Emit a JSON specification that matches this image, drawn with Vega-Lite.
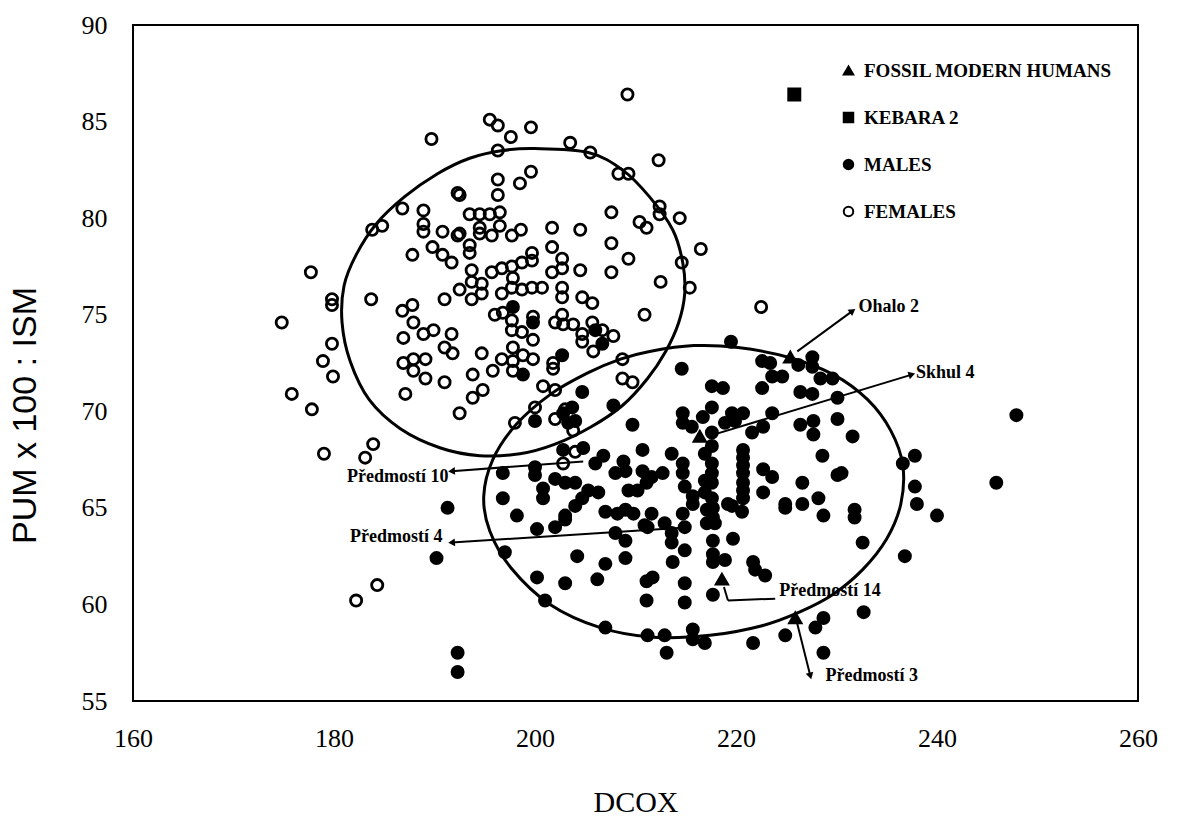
{
  "$schema": "https://vega.github.io/schema/vega-lite/v6.json",
  "width": 1005,
  "height": 676,
  "autosize": {"type": "none"},
  "padding": {"left": 133, "top": 25, "right": 41, "bottom": 118},
  "background": "white",
  "config": {
    "view": {"stroke": "black", "strokeWidth": 2},
    "axis": {"grid": false, "ticks": false, "domain": false, "labelColor": "black", "titleColor": "black"},
    "legend": {
      "orient": "none", "legendX": 706, "legendY": 36, "title": null,
      "labelFont": "Liberation Serif", "labelFontWeight": "bold", "labelFontSize": 19, "labelColor": "black", "labelLimit": 0,
      "rowPadding": 27, "labelOffset": 6, "symbolStrokeWidth": 2, "symbolSize": 90, "symbolStrokeColor": "black"
    }
  },
  "datasets": {
    "pts": [
      {"group":"FEMALES","x":174.8,"y":74.6},{"group":"FEMALES","x":175.8,"y":70.9},{"group":"FEMALES","x":177.8,"y":70.1},{"group":"FEMALES","x":177.7,"y":77.2},{"group":"FEMALES","x":178.9,"y":72.6},{"group":"FEMALES","x":179.8,"y":73.5},{"group":"FEMALES","x":179.9,"y":71.8},{"group":"FEMALES","x":179.8,"y":75.8},{"group":"FEMALES","x":179.8,"y":75.5},{"group":"FEMALES","x":179.0,"y":67.8},
      {"group":"FEMALES","x":182.2,"y":60.2},{"group":"FEMALES","x":184.3,"y":61.0},{"group":"FEMALES","x":183.9,"y":68.3},{"group":"FEMALES","x":183.1,"y":67.6},{"group":"FEMALES","x":183.7,"y":75.8},{"group":"FEMALES","x":183.8,"y":79.4},{"group":"FEMALES","x":184.8,"y":79.6},{"group":"FEMALES","x":186.8,"y":80.5},{"group":"FEMALES","x":188.9,"y":80.4},{"group":"FEMALES","x":188.9,"y":79.7},
      {"group":"FEMALES","x":188.9,"y":79.3},{"group":"FEMALES","x":190.8,"y":79.3},{"group":"FEMALES","x":192.3,"y":79.1},{"group":"FEMALES","x":187.8,"y":78.1},{"group":"FEMALES","x":189.8,"y":78.5},{"group":"FEMALES","x":190.8,"y":78.1},{"group":"FEMALES","x":191.7,"y":77.7},{"group":"FEMALES","x":192.3,"y":81.3},{"group":"FEMALES","x":189.7,"y":84.1},{"group":"FEMALES","x":187.1,"y":70.9},
      {"group":"FEMALES","x":186.8,"y":75.2},{"group":"FEMALES","x":187.8,"y":75.5},{"group":"FEMALES","x":187.9,"y":74.6},{"group":"FEMALES","x":188.9,"y":74.0},{"group":"FEMALES","x":189.9,"y":74.2},{"group":"FEMALES","x":186.9,"y":73.8},{"group":"FEMALES","x":186.9,"y":72.5},{"group":"FEMALES","x":187.9,"y":72.7},{"group":"FEMALES","x":189.1,"y":72.7},{"group":"FEMALES","x":187.9,"y":72.1},
      {"group":"FEMALES","x":189.1,"y":71.7},{"group":"FEMALES","x":191.0,"y":71.5},{"group":"FEMALES","x":191.0,"y":75.8},{"group":"FEMALES","x":191.7,"y":74.0},{"group":"FEMALES","x":191.0,"y":73.3},{"group":"FEMALES","x":191.8,"y":73.0},{"group":"FEMALES","x":192.5,"y":69.9},{"group":"FEMALES","x":209.2,"y":86.4},{"group":"FEMALES","x":195.5,"y":85.1},{"group":"FEMALES","x":196.3,"y":84.8},
      {"group":"FEMALES","x":197.6,"y":84.2},{"group":"FEMALES","x":199.6,"y":84.7},{"group":"FEMALES","x":203.5,"y":83.9},{"group":"FEMALES","x":205.5,"y":83.4},{"group":"FEMALES","x":208.3,"y":82.3},{"group":"FEMALES","x":209.3,"y":82.3},{"group":"FEMALES","x":196.3,"y":83.5},{"group":"FEMALES","x":199.6,"y":82.4},{"group":"FEMALES","x":198.5,"y":81.8},{"group":"FEMALES","x":196.3,"y":82.0},
      {"group":"FEMALES","x":196.3,"y":81.2},{"group":"FEMALES","x":192.5,"y":81.2},{"group":"FEMALES","x":207.6,"y":80.3},{"group":"FEMALES","x":210.4,"y":79.8},{"group":"FEMALES","x":211.1,"y":79.5},{"group":"FEMALES","x":193.5,"y":80.2},{"group":"FEMALES","x":194.5,"y":80.2},{"group":"FEMALES","x":195.5,"y":80.2},{"group":"FEMALES","x":196.5,"y":80.3},{"group":"FEMALES","x":194.5,"y":79.5},
      {"group":"FEMALES","x":196.5,"y":79.6},{"group":"FEMALES","x":194.5,"y":79.2},{"group":"FEMALES","x":195.7,"y":79.1},{"group":"FEMALES","x":197.7,"y":79.1},{"group":"FEMALES","x":198.6,"y":79.4},{"group":"FEMALES","x":201.7,"y":79.5},{"group":"FEMALES","x":204.5,"y":79.4},{"group":"FEMALES","x":192.5,"y":79.2},{"group":"FEMALES","x":207.6,"y":78.7},{"group":"FEMALES","x":209.3,"y":77.9},
      {"group":"FEMALES","x":193.5,"y":78.6},{"group":"FEMALES","x":193.5,"y":78.2},{"group":"FEMALES","x":201.7,"y":78.5},{"group":"FEMALES","x":202.7,"y":77.9},{"group":"FEMALES","x":199.7,"y":78.2},{"group":"FEMALES","x":199.7,"y":77.8},{"group":"FEMALES","x":198.7,"y":77.7},{"group":"FEMALES","x":193.7,"y":77.3},{"group":"FEMALES","x":195.7,"y":77.2},{"group":"FEMALES","x":196.7,"y":77.4},
      {"group":"FEMALES","x":197.7,"y":77.5},{"group":"FEMALES","x":197.8,"y":76.9},{"group":"FEMALES","x":201.7,"y":77.2},{"group":"FEMALES","x":202.7,"y":77.4},{"group":"FEMALES","x":204.5,"y":77.3},{"group":"FEMALES","x":207.6,"y":77.2},{"group":"FEMALES","x":193.7,"y":76.7},{"group":"FEMALES","x":194.7,"y":76.6},{"group":"FEMALES","x":197.7,"y":76.4},{"group":"FEMALES","x":198.7,"y":76.3},
      {"group":"FEMALES","x":199.7,"y":76.4},{"group":"FEMALES","x":200.7,"y":76.4},{"group":"FEMALES","x":202.7,"y":76.4},{"group":"FEMALES","x":192.5,"y":76.3},{"group":"FEMALES","x":212.3,"y":83.0},{"group":"FEMALES","x":212.4,"y":80.6},{"group":"FEMALES","x":212.4,"y":80.2},{"group":"FEMALES","x":214.4,"y":80.0},{"group":"FEMALES","x":216.5,"y":78.4},{"group":"FEMALES","x":214.6,"y":77.7},
      {"group":"FEMALES","x":212.5,"y":76.7},{"group":"FEMALES","x":215.4,"y":76.4},{"group":"FEMALES","x":193.7,"y":75.8},{"group":"FEMALES","x":194.7,"y":76.1},{"group":"FEMALES","x":196.7,"y":76.1},{"group":"FEMALES","x":202.7,"y":75.9},{"group":"FEMALES","x":204.7,"y":75.9},{"group":"FEMALES","x":205.7,"y":75.6},{"group":"FEMALES","x":196.0,"y":75.0},{"group":"FEMALES","x":196.8,"y":75.1},
      {"group":"FEMALES","x":197.7,"y":74.7},{"group":"FEMALES","x":199.8,"y":74.9},{"group":"FEMALES","x":197.7,"y":74.2},{"group":"FEMALES","x":198.7,"y":74.1},{"group":"FEMALES","x":199.8,"y":73.7},{"group":"FEMALES","x":202.0,"y":74.6},{"group":"FEMALES","x":202.7,"y":75.0},{"group":"FEMALES","x":202.8,"y":74.5},{"group":"FEMALES","x":203.8,"y":74.5},{"group":"FEMALES","x":204.7,"y":74.0},
      {"group":"FEMALES","x":205.7,"y":74.6},{"group":"FEMALES","x":206.7,"y":74.2},{"group":"FEMALES","x":207.8,"y":73.9},{"group":"FEMALES","x":204.7,"y":73.6},{"group":"FEMALES","x":205.8,"y":73.1},{"group":"FEMALES","x":194.7,"y":73.0},{"group":"FEMALES","x":196.7,"y":72.7},{"group":"FEMALES","x":197.8,"y":73.3},{"group":"FEMALES","x":197.8,"y":72.6},{"group":"FEMALES","x":198.8,"y":72.9},
      {"group":"FEMALES","x":199.8,"y":72.7},{"group":"FEMALES","x":197.8,"y":72.1},{"group":"FEMALES","x":195.8,"y":72.1},{"group":"FEMALES","x":193.8,"y":71.9},{"group":"FEMALES","x":194.8,"y":71.1},{"group":"FEMALES","x":193.8,"y":70.7},{"group":"FEMALES","x":201.8,"y":72.5},{"group":"FEMALES","x":201.8,"y":72.2},{"group":"FEMALES","x":200.8,"y":71.3},{"group":"FEMALES","x":202.0,"y":71.1},
      {"group":"FEMALES","x":200.0,"y":70.2},{"group":"FEMALES","x":202.0,"y":69.6},{"group":"FEMALES","x":198.0,"y":69.4},{"group":"FEMALES","x":203.0,"y":70.1},{"group":"FEMALES","x":203.8,"y":69.0},{"group":"FEMALES","x":208.7,"y":72.7},{"group":"FEMALES","x":208.7,"y":71.7},{"group":"FEMALES","x":209.7,"y":71.5},{"group":"FEMALES","x":210.9,"y":75.0},{"group":"FEMALES","x":204.0,"y":67.9},
      {"group":"FEMALES","x":202.8,"y":67.3},{"group":"FEMALES","x":222.5,"y":75.4},
      {"group":"MALES","x":197.8,"y":75.4},{"group":"MALES","x":199.8,"y":74.6},{"group":"MALES","x":206.0,"y":74.2},{"group":"MALES","x":206.7,"y":73.5},{"group":"MALES","x":202.7,"y":72.9},{"group":"MALES","x":198.8,"y":71.9},{"group":"MALES","x":204.7,"y":71.0},{"group":"MALES","x":207.8,"y":70.3},{"group":"MALES","x":200.0,"y":69.5},{"group":"MALES","x":202.8,"y":69.9},
      {"group":"MALES","x":203.7,"y":70.2},{"group":"MALES","x":204.0,"y":69.5},{"group":"MALES","x":203.3,"y":69.4},{"group":"MALES","x":209.7,"y":69.3},{"group":"MALES","x":202.8,"y":68.0},{"group":"MALES","x":204.8,"y":68.1},{"group":"MALES","x":206.0,"y":67.3},{"group":"MALES","x":206.8,"y":67.7},{"group":"MALES","x":208.0,"y":66.8},{"group":"MALES","x":208.8,"y":67.4},
      {"group":"MALES","x":209.0,"y":66.9},{"group":"MALES","x":210.7,"y":68.0},{"group":"MALES","x":210.7,"y":66.9},{"group":"MALES","x":196.8,"y":66.8},{"group":"MALES","x":200.0,"y":67.1},{"group":"MALES","x":200.0,"y":66.7},{"group":"MALES","x":202.0,"y":66.5},{"group":"MALES","x":203.0,"y":66.3},{"group":"MALES","x":204.0,"y":66.3},{"group":"MALES","x":196.8,"y":65.5},
      {"group":"MALES","x":200.8,"y":66.0},{"group":"MALES","x":200.8,"y":65.5},{"group":"MALES","x":205.3,"y":65.9},{"group":"MALES","x":206.3,"y":65.8},{"group":"MALES","x":204.7,"y":65.5},{"group":"MALES","x":209.3,"y":65.9},{"group":"MALES","x":210.2,"y":65.9},{"group":"MALES","x":211.1,"y":66.3},{"group":"MALES","x":219.5,"y":73.6},{"group":"MALES","x":214.6,"y":72.2},
      {"group":"MALES","x":217.6,"y":71.3},{"group":"MALES","x":218.7,"y":71.2},{"group":"MALES","x":222.6,"y":72.6},{"group":"MALES","x":223.4,"y":72.5},{"group":"MALES","x":223.6,"y":71.8},{"group":"MALES","x":224.6,"y":71.8},{"group":"MALES","x":222.6,"y":71.2},{"group":"MALES","x":226.2,"y":72.4},{"group":"MALES","x":227.6,"y":72.8},{"group":"MALES","x":227.6,"y":72.3},
      {"group":"MALES","x":228.4,"y":71.7},{"group":"MALES","x":229.6,"y":71.7},{"group":"MALES","x":226.4,"y":71.0},{"group":"MALES","x":227.6,"y":70.9},{"group":"MALES","x":230.1,"y":70.7},{"group":"MALES","x":223.6,"y":69.9},{"group":"MALES","x":226.4,"y":69.3},{"group":"MALES","x":227.7,"y":69.5},{"group":"MALES","x":227.7,"y":68.8},{"group":"MALES","x":230.1,"y":69.6},
      {"group":"MALES","x":228.6,"y":67.7},{"group":"MALES","x":226.6,"y":66.3},{"group":"MALES","x":228.2,"y":65.5},{"group":"MALES","x":214.7,"y":69.9},{"group":"MALES","x":216.7,"y":69.7},{"group":"MALES","x":217.6,"y":70.2},{"group":"MALES","x":214.7,"y":69.4},{"group":"MALES","x":215.6,"y":69.2},{"group":"MALES","x":219.6,"y":69.9},{"group":"MALES","x":220.7,"y":69.9},
      {"group":"MALES","x":218.9,"y":69.4},{"group":"MALES","x":219.9,"y":69.5},{"group":"MALES","x":222.7,"y":69.2},{"group":"MALES","x":221.6,"y":68.9},{"group":"MALES","x":217.6,"y":68.9},{"group":"MALES","x":217.6,"y":68.2},{"group":"MALES","x":213.6,"y":67.8},{"group":"MALES","x":214.7,"y":67.3},{"group":"MALES","x":214.7,"y":66.8},{"group":"MALES","x":216.9,"y":67.8},
      {"group":"MALES","x":217.6,"y":67.3},{"group":"MALES","x":217.6,"y":66.8},{"group":"MALES","x":216.9,"y":66.4},{"group":"MALES","x":217.6,"y":66.3},{"group":"MALES","x":216.9,"y":65.8},{"group":"MALES","x":217.6,"y":65.5},{"group":"MALES","x":220.7,"y":68.0},{"group":"MALES","x":220.7,"y":67.6},{"group":"MALES","x":220.7,"y":67.2},{"group":"MALES","x":220.7,"y":66.8},
      {"group":"MALES","x":220.7,"y":66.3},{"group":"MALES","x":220.7,"y":65.9},{"group":"MALES","x":220.7,"y":65.5},{"group":"MALES","x":222.7,"y":67.0},{"group":"MALES","x":223.6,"y":66.6},{"group":"MALES","x":222.7,"y":65.8},{"group":"MALES","x":212.7,"y":66.8},{"group":"MALES","x":211.6,"y":66.6},{"group":"MALES","x":214.9,"y":66.1},{"group":"MALES","x":215.7,"y":65.6},
      {"group":"MALES","x":219.2,"y":65.2},{"group":"MALES","x":224.9,"y":65.2},{"group":"MALES","x":230.1,"y":66.7},{"group":"MALES","x":231.6,"y":68.7},{"group":"MALES","x":230.5,"y":66.8},{"group":"MALES","x":237.8,"y":67.7},{"group":"MALES","x":236.6,"y":67.3},{"group":"MALES","x":237.8,"y":66.1},{"group":"MALES","x":247.9,"y":69.8},{"group":"MALES","x":245.9,"y":66.3},
      {"group":"MALES","x":238.0,"y":65.2},{"group":"MALES","x":231.8,"y":64.9},{"group":"MALES","x":231.8,"y":64.5},{"group":"MALES","x":240.0,"y":64.6},{"group":"MALES","x":232.6,"y":63.2},{"group":"MALES","x":236.8,"y":62.5},{"group":"MALES","x":232.7,"y":59.6},{"group":"MALES","x":211.6,"y":64.7},{"group":"MALES","x":212.9,"y":64.2},{"group":"MALES","x":211.2,"y":64.0},
      {"group":"MALES","x":214.7,"y":64.7},{"group":"MALES","x":215.7,"y":65.2},{"group":"MALES","x":217.1,"y":64.9},{"group":"MALES","x":217.7,"y":65.0},{"group":"MALES","x":217.7,"y":64.5},{"group":"MALES","x":217.1,"y":64.2},{"group":"MALES","x":217.9,"y":64.2},{"group":"MALES","x":213.6,"y":63.7},{"group":"MALES","x":214.9,"y":64.0},{"group":"MALES","x":213.6,"y":63.2},
      {"group":"MALES","x":214.9,"y":62.8},{"group":"MALES","x":213.7,"y":62.2},{"group":"MALES","x":217.7,"y":63.3},{"group":"MALES","x":217.7,"y":62.6},{"group":"MALES","x":217.7,"y":62.2},{"group":"MALES","x":218.9,"y":62.3},{"group":"MALES","x":219.7,"y":63.4},{"group":"MALES","x":221.7,"y":62.2},{"group":"MALES","x":221.9,"y":61.8},{"group":"MALES","x":222.9,"y":61.5},
      {"group":"MALES","x":211.7,"y":61.4},{"group":"MALES","x":211.1,"y":61.2},{"group":"MALES","x":214.9,"y":61.1},{"group":"MALES","x":211.1,"y":60.2},{"group":"MALES","x":214.9,"y":60.1},{"group":"MALES","x":217.7,"y":60.5},{"group":"MALES","x":211.2,"y":58.4},{"group":"MALES","x":212.9,"y":58.4},{"group":"MALES","x":213.1,"y":57.5},{"group":"MALES","x":215.7,"y":58.7},
      {"group":"MALES","x":215.7,"y":58.2},{"group":"MALES","x":216.9,"y":58.0},{"group":"MALES","x":221.7,"y":58.0},{"group":"MALES","x":224.9,"y":58.4},{"group":"MALES","x":227.9,"y":58.8},{"group":"MALES","x":228.7,"y":59.3},{"group":"MALES","x":228.7,"y":57.5},{"group":"MALES","x":224.9,"y":65.0},{"group":"MALES","x":226.6,"y":65.2},{"group":"MALES","x":228.7,"y":64.6},
      {"group":"MALES","x":220.6,"y":64.8},{"group":"MALES","x":219.6,"y":65.1},{"group":"MALES","x":204.0,"y":65.1},{"group":"MALES","x":198.2,"y":64.6},{"group":"MALES","x":200.2,"y":63.9},{"group":"MALES","x":202.0,"y":64.0},{"group":"MALES","x":203.0,"y":64.4},{"group":"MALES","x":203.0,"y":64.6},{"group":"MALES","x":207.0,"y":64.8},{"group":"MALES","x":208.2,"y":64.7},
      {"group":"MALES","x":209.0,"y":64.9},{"group":"MALES","x":209.8,"y":64.7},{"group":"MALES","x":210.9,"y":64.1},{"group":"MALES","x":208.0,"y":63.7},{"group":"MALES","x":209.0,"y":63.3},{"group":"MALES","x":197.0,"y":62.7},{"group":"MALES","x":204.2,"y":62.5},{"group":"MALES","x":207.0,"y":62.1},{"group":"MALES","x":209.0,"y":62.4},{"group":"MALES","x":200.2,"y":61.4},
      {"group":"MALES","x":203.0,"y":61.1},{"group":"MALES","x":206.2,"y":61.3},{"group":"MALES","x":201.0,"y":60.2},{"group":"MALES","x":207.0,"y":58.8},{"group":"MALES","x":192.3,"y":57.5},{"group":"MALES","x":192.3,"y":56.5},{"group":"MALES","x":191.3,"y":65.0},{"group":"MALES","x":190.2,"y":62.4},
      {"group":"KEBARA 2","x":225.8,"y":86.4},
      {"group":"FOSSIL MODERN HUMANS","x":225.4,"y":72.8},{"group":"FOSSIL MODERN HUMANS","x":216.4,"y":68.7},{"group":"FOSSIL MODERN HUMANS","x":218.6,"y":61.3},{"group":"FOSSIL MODERN HUMANS","x":225.9,"y":59.3}
    ],
    "ell": [
      {"e":"F","i":0,"x":200.0,"y":83.6},{"e":"F","i":1,"x":205.3,"y":83.4},{"e":"F","i":2,"x":208.7,"y":82.5},{"e":"F","i":3,"x":211.4,"y":81.1},{"e":"F","i":4,"x":213.7,"y":79.4},{"e":"F","i":5,"x":214.7,"y":77.7},{"e":"F","i":6,"x":214.9,"y":76.1},{"e":"F","i":7,"x":214.3,"y":74.6},{"e":"F","i":8,"x":213.0,"y":73.1},{"e":"F","i":9,"x":211.2,"y":71.7},
      {"e":"F","i":10,"x":208.7,"y":70.3},{"e":"F","i":11,"x":205.6,"y":69.2},{"e":"F","i":12,"x":202.0,"y":68.3},{"e":"F","i":13,"x":198.5,"y":67.8},{"e":"F","i":14,"x":194.5,"y":67.7},{"e":"F","i":15,"x":190.6,"y":68.1},{"e":"F","i":16,"x":186.6,"y":69.1},{"e":"F","i":17,"x":183.5,"y":70.6},{"e":"F","i":18,"x":181.6,"y":72.6},{"e":"F","i":19,"x":180.8,"y":74.6},
      {"e":"F","i":20,"x":181.0,"y":76.5},{"e":"F","i":21,"x":182.2,"y":78.1},{"e":"F","i":22,"x":184.2,"y":79.7},{"e":"F","i":23,"x":187.0,"y":81.1},{"e":"F","i":24,"x":190.3,"y":82.3},{"e":"F","i":25,"x":193.5,"y":83.1},{"e":"F","i":26,"x":196.8,"y":83.5},
      {"e":"M","i":0,"x":211.4,"y":73.1},{"e":"M","i":1,"x":215.8,"y":73.4},{"e":"M","i":2,"x":220.2,"y":73.3},{"e":"M","i":3,"x":225.2,"y":72.8},{"e":"M","i":4,"x":229.7,"y":71.9},{"e":"M","i":5,"x":233.1,"y":70.6},{"e":"M","i":6,"x":235.4,"y":69.0},{"e":"M","i":7,"x":236.6,"y":67.2},{"e":"M","i":8,"x":236.4,"y":65.2},{"e":"M","i":9,"x":235.0,"y":63.4},
      {"e":"M","i":10,"x":232.6,"y":61.8},{"e":"M","i":11,"x":229.6,"y":60.5},{"e":"M","i":12,"x":226.3,"y":59.6},{"e":"M","i":13,"x":222.6,"y":58.9},{"e":"M","i":14,"x":217.4,"y":58.4},{"e":"M","i":15,"x":211.8,"y":58.3},{"e":"M","i":16,"x":206.5,"y":58.8},{"e":"M","i":17,"x":201.5,"y":60.0},{"e":"M","i":18,"x":197.6,"y":61.9},{"e":"M","i":19,"x":195.5,"y":63.8},
      {"e":"M","i":20,"x":194.9,"y":65.6},{"e":"M","i":21,"x":195.8,"y":67.5},{"e":"M","i":22,"x":198.1,"y":69.3},{"e":"M","i":23,"x":201.6,"y":70.9},{"e":"M","i":24,"x":205.3,"y":72.0},{"e":"M","i":25,"x":208.5,"y":72.7}
    ],
    "arrows": [
      {"label":"Ohalo 2","x":226.1,"y":73.1,"x2":231.6,"y2":75.2},
      {"label":"Skhul 4","x":217.2,"y":68.7,"x2":237.5,"y2":71.9},
      {"label":"Předmostí 10","x":204.8,"y":67.4,"x2":191.7,"y2":66.9},
      {"label":"Předmostí 4","x":215.4,"y":64.0,"x2":191.7,"y2":63.2},
      {"label":"Předmostí 14a","x":223.9,"y":60.3,"x2":219.2,"y2":60.2},
      {"label":"Předmostí 14b","x":219.2,"y":60.2,"x2":218.8,"y2":60.9},
      {"label":"Předmostí 3","x":226.1,"y":59.0,"x2":227.4,"y2":56.3}
    ]
  },
  "encoding": {
    "x": {"field": "x", "type": "quantitative", "scale": {"domain": [160, 260], "nice": false, "zero": false},
      "axis": {"values": [160, 180, 200, 220, 240, 260], "title": "DCOX", "labelFont": "Liberation Serif", "labelFontSize": 26, "labelPadding": 24, "titleFont": "Liberation Serif", "titleFontSize": 30, "titleFontWeight": "normal", "titlePadding": 36, "labelFlush": false}},
    "y": {"field": "y", "type": "quantitative", "scale": {"domain": [55, 90], "nice": false, "zero": false},
      "axis": {"values": [55, 60, 65, 70, 75, 80, 85, 90], "title": "PUM x 100 : ISM", "labelFont": "Liberation Serif", "labelFontSize": 26, "labelPadding": 26, "titleFont": "Liberation Sans", "titleFontSize": 34, "titleFontWeight": "normal", "titleX": -108, "titleY": 390, "titleAngle": -90, "titleAlign": "center", "titleBaseline": "middle", "labelFlush": false}}
  },
  "layer": [
    {
      "data": {"name": "ell"},
      "mark": {"type": "line", "color": "black", "strokeWidth": 3, "interpolate": "cardinal-closed"},
      "encoding": {"detail": {"field": "e"}, "order": {"field": "i", "type": "quantitative"}}
    },
    {
      "data": {"name": "arrows"},
      "mark": {"type": "rule", "color": "black", "strokeWidth": 2},
      "encoding": {"x2": {"field": "x2"}, "y2": {"field": "y2"}}
    },
    {
      "data": {"name": "pts"},
      "mark": {"type": "point", "filled": true, "opacity": 1, "strokeWidth": 2.8, "size": 125},
      "encoding": {
        "shape": {"field": "group", "type": "nominal", "scale": {"domain": ["FOSSIL MODERN HUMANS", "KEBARA 2", "MALES", "FEMALES"], "range": ["triangle-up", "square", "circle", "circle"]}},
        "fill": {"field": "group", "type": "nominal", "scale": {"domain": ["FOSSIL MODERN HUMANS", "KEBARA 2", "MALES", "FEMALES"], "range": ["black", "black", "black", "transparent"]}},
        "stroke": {"field": "group", "type": "nominal", "scale": {"domain": ["FOSSIL MODERN HUMANS", "KEBARA 2", "MALES", "FEMALES"], "range": ["black", "black", "black", "black"]}}
      }
    },
    {
      "data": {"name": "arrows"},
      "transform": [{"filter": "datum.label == 'Ohalo 2'"}],
      "mark": {"type": "point", "shape": "triangle-up", "filled": true, "color": "black", "opacity": 1, "size": 60, "angle": 54},
      "encoding": {"x": {"field": "x2", "type": "quantitative"}, "y": {"field": "y2", "type": "quantitative"}}
    },
    {
      "data": {"name": "arrows"},
      "transform": [{"filter": "datum.label == 'Skhul 4'"}],
      "mark": {"type": "point", "shape": "triangle-up", "filled": true, "color": "black", "opacity": 1, "size": 60, "angle": 73},
      "encoding": {"x": {"field": "x2", "type": "quantitative"}, "y": {"field": "y2", "type": "quantitative"}}
    },
    {
      "data": {"name": "arrows"},
      "transform": [{"filter": "datum.label == 'Předmostí 10' || datum.label == 'Předmostí 4'"}],
      "mark": {"type": "point", "shape": "triangle-up", "filled": true, "color": "black", "opacity": 1, "size": 60, "angle": 266},
      "encoding": {"x": {"field": "x2", "type": "quantitative"}, "y": {"field": "y2", "type": "quantitative"}}
    },
    {
      "data": {"name": "arrows"},
      "transform": [{"filter": "datum.label == 'Předmostí 3'"}],
      "mark": {"type": "point", "shape": "triangle-up", "filled": true, "color": "black", "opacity": 1, "size": 60, "angle": 165},
      "encoding": {"x": {"field": "x2", "type": "quantitative"}, "y": {"field": "y2", "type": "quantitative"}}
    },
    {
      "data": {"values": [
        {"label": "Ohalo 2", "x": 232.2, "y": 75.4},
        {"label": "Skhul 4", "x": 237.9, "y": 72.0},
        {"label": "Předmostí 14", "x": 224.3, "y": 60.7},
        {"label": "Předmostí 3", "x": 228.9, "y": 56.3}
      ]},
      "mark": {"type": "text", "align": "left", "baseline": "middle", "font": "Liberation Serif", "fontWeight": "bold", "fontSize": 18, "color": "black"},
      "encoding": {"text": {"field": "label"}}
    },
    {
      "data": {"values": [
        {"label": "Předmostí 10", "x": 191.4, "y": 66.6},
        {"label": "Předmostí 4", "x": 190.8, "y": 63.5}
      ]},
      "mark": {"type": "text", "align": "right", "baseline": "middle", "font": "Liberation Serif", "fontWeight": "bold", "fontSize": 18, "color": "black"},
      "encoding": {"text": {"field": "label"}}
    }
  ]
}
